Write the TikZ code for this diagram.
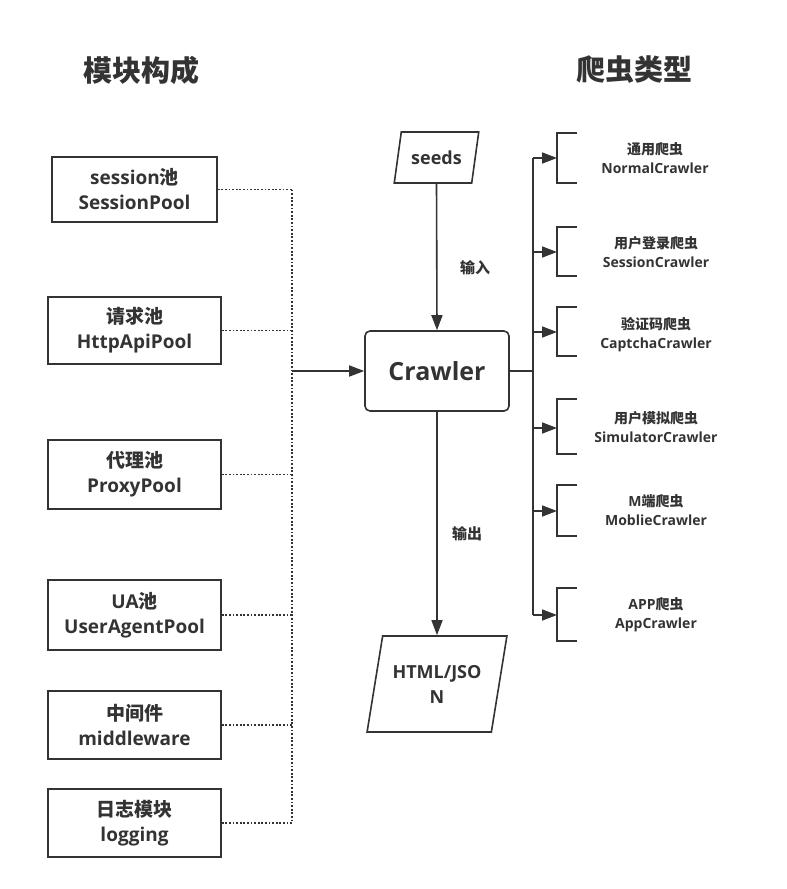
\documentclass[tikz,border=0pt]{standalone}
\usepackage{fontspec}
\setmainfont{Open Sans}
\newfontfamily\cjk{Noto Sans CJK SC}
\newcommand{\zh}[1]{{\cjk #1}}
\usetikzlibrary{arrows.meta,shapes.geometric}
\definecolor{ink}{HTML}{333333}
\begin{document}
\begin{tikzpicture}[x=1pt,y=-1pt,line width=1.6pt,
  mbox/.style={draw=ink,line width=1.6pt,minimum width=173pt,minimum height=67pt,align=center,inner sep=0pt,text=ink,font=\bfseries\fontsize{19}{25}\selectfont},
  rtext/.style={align=center,text=ink,font=\bfseries\fontsize{14}{19}\selectfont,inner sep=0pt},
  head/.style={text=ink,font=\bfseries\fontsize{29}{34}\selectfont,inner sep=0pt},
  lbl/.style={text=ink,font=\bfseries\fontsize{15}{18}\selectfont,inner sep=0pt},
  para/.style={draw=ink,line width=1.6pt,trapezium,trapezium left angle=70,trapezium right angle=110,trapezium stretches=true,align=center,text=ink,inner sep=0pt,font=\bfseries\fontsize{18}{25}\selectfont},
  dots/.style={draw=ink,line width=1.8pt,dash pattern=on 1.8pt off 1.8pt},
  arr/.style={draw=ink,line width=1.6pt,-{Triangle[length=15pt,width=11pt]}},
  brk/.style={draw=ink,line width=1.6pt}]
\useasboundingbox (0,0) rectangle (787,889);

% headers
\node[head] (h1) at (141,70) {\zh{模块构成}};
\node[head] (h2) at (634,70) {\zh{爬虫类型}};

% left boxes
\node[mbox,minimum width=165pt,minimum height=65pt] (b1) at (134.5,189.5) {session\zh{池}\\SessionPool};
\node[mbox] (b2) at (134.5,330.5) {\zh{请求池}\\HttpApiPool};
\node[mbox,minimum height=69pt] (b3) at (134.5,474.5) {\zh{代理池}\\ProxyPool};
\node[mbox,minimum height=70pt] (b4) at (134.5,615) {UA\zh{池}\\UserAgentPool};
\node[mbox,minimum height=68pt] (b5) at (134.5,725) {\zh{中间件}\\middleware};
\node[mbox,minimum height=68pt] (b6) at (134.5,823) {\zh{日志模块}\\logging};

% center
\node[draw=ink,line width=1.6pt,rounded corners=5pt,minimum width=144pt,minimum height=80pt,inner sep=0pt,text=ink,font=\bfseries\fontsize{25}{30}\selectfont] (cr) at (437,371) {Crawler};
\node[para,minimum width=85pt,minimum height=51pt] (sd) at (436.5,157.5) {seeds};
\node[para,trapezium left angle=71.5,trapezium right angle=108.5,minimum width=140pt,minimum height=96pt] (out) at (437,684) {HTML/JSO\\N};

\draw[arr] (sd.south) -- (cr.north);
\draw[arr] (cr.south) -- (out.north);
\node[lbl] (l1) at (475,268) {\zh{输入}};
\node[lbl] (l2) at (467,534) {\zh{输出}};

% dotted connectors
\coordinate (tr) at (292,0);
\foreach \b in {b1,b2,b3,b4,b5,b6} {
  \draw[dots] (\b.east) -- (\b.east -| tr);
}
\draw[dots] (b1.east -| tr) -- (b6.east -| tr);
\draw[arr] (cr.west -| tr) -- (cr.west);

% right side
\coordinate (rt) at (533,0);
\foreach \i/\ya/\yb/\yc in {1/133/158/183, 2/227/252/276, 3/307/332/356, 4/399/428/454, 5/485/511/536, 6/588/615/641} {
  \coordinate (k\i) at (557,\yb);
  \draw[brk] (577,\ya) -- (557,\ya) -- (557,\yc) -- (577,\yc);
  \draw[arr] (k\i -| rt) -- (k\i);
}
\draw[brk] (cr.east) -- (cr.east -| rt);
\draw[brk] (k1 -| rt) -- (k6 -| rt);

\node[rtext] (t1) at (655,158) {\zh{通用爬虫}\\NormalCrawler};
\node[rtext] (t2) at (656,252) {\zh{用户登录爬虫}\\SessionCrawler};
\node[rtext] (t3) at (656,335) {\zh{验证码爬虫}\\CaptchaCrawler};
\node[rtext] (t4) at (656,427) {\zh{用户模拟爬虫}\\SimulatorCrawler};
\node[rtext] (t5) at (656,510) {M\zh{端爬虫}\\MoblieCrawler};
\node[rtext] (t6) at (656,615) {APP\zh{爬虫}\\AppCrawler};
\end{tikzpicture}
\end{document}
